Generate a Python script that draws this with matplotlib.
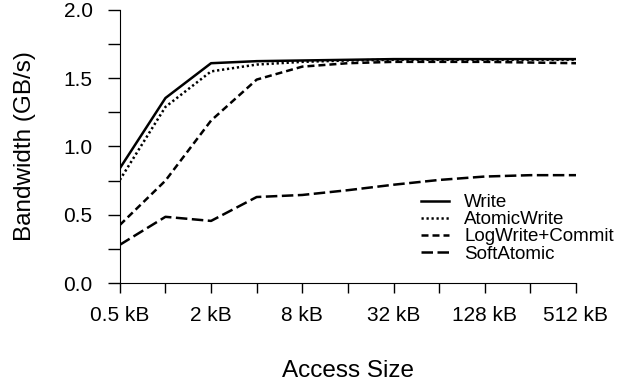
import numpy as np
import matplotlib.pyplot as plt
from matplotlib.ticker import MultipleLocator, FixedLocator, NullFormatter

plt.rcParams['font.family'] = ['Liberation Sans', 'DejaVu Sans']

sizes = [0.5, 1, 2, 4, 8, 16, 32, 64, 128, 256, 512]
tick_sizes = [0.5, 2, 8, 32, 128, 512]
tick_labels = ['0.5 kB', '2 kB', '8 kB', '32 kB', '128 kB', '512 kB']

write = [0.84, 1.355, 1.61, 1.625, 1.63, 1.635, 1.64, 1.64, 1.64, 1.64, 1.64]
atomic_write = [0.755, 1.29, 1.55, 1.60, 1.62, 1.63, 1.635, 1.635, 1.635, 1.635, 1.635]
logwrite_commit = [0.425, 0.75, 1.19, 1.49, 1.585, 1.61, 1.62, 1.62, 1.62, 1.615, 1.61]
soft_atomic = [0.28, 0.485, 0.455, 0.63, 0.645, 0.68, 0.72, 0.755, 0.78, 0.79, 0.79]

fig = plt.figure(figsize=(6.34, 3.83), dpi=100)
ax = fig.add_axes([0.189, 0.261, 0.7195, 0.713])

lw = 1.8
ax.plot(sizes, write, color='black', lw=lw, ls='-', label='Write')
ax.plot(sizes, atomic_write, color='black', lw=lw, ls=(0, (0.9, 1.1)), label='AtomicWrite')
ax.plot(sizes, logwrite_commit, color='black', lw=lw, ls=(0, (2.8, 1.6)), label='LogWrite+Commit')
ax.plot(sizes, soft_atomic, color='black', lw=lw, ls=(0, (4.6, 1.8)), label='SoftAtomic')

ax.set_xscale('log', base=2)
ax.set_xlim(0.5, 512)
ax.xaxis.set_major_locator(FixedLocator(tick_sizes))
ax.set_xticklabels(tick_labels)
ax.xaxis.set_minor_locator(FixedLocator(sizes))
ax.xaxis.set_minor_formatter(NullFormatter())
ax.tick_params(axis='x', which='both', length=7.5, width=1)
ax.tick_params(axis='x', which='major', pad=9, labelsize=15)

ax.set_ylim(0, 2.0)
ax.yaxis.set_major_locator(MultipleLocator(0.5))
ax.yaxis.set_minor_locator(MultipleLocator(0.25))
ax.yaxis.set_major_formatter(lambda v, p: f'{v:.1f}')
ax.tick_params(axis='y', which='both', length=8.5, width=1)
ax.tick_params(axis='y', which='major', pad=11, labelsize=15)

for side in ['top', 'right']:
    ax.spines[side].set_visible(False)

ax.set_xlabel('Access Size', fontsize=17.5, labelpad=25)
ax.set_ylabel('Bandwidth (GB/s)', fontsize=17.5, labelpad=20)

ax.legend(loc='upper left', frameon=False, fontsize=13.5, handlelength=1.5,
          handletextpad=0.8, labelspacing=0.0, borderpad=0,
          bbox_to_anchor=(0.64, 0.36))

fig.savefig('out.png', dpi=100)
